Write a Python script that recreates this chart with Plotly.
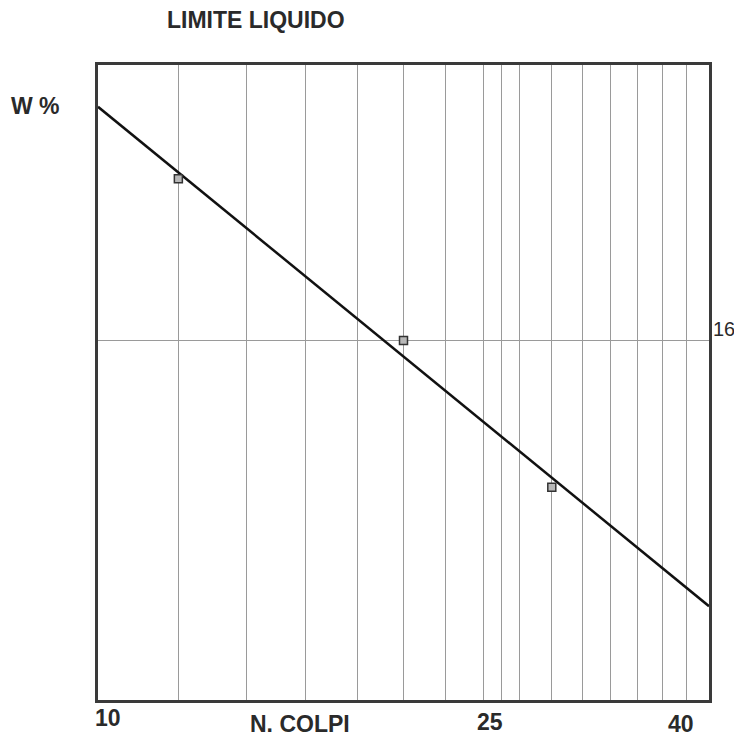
import numpy as np
import plotly.graph_objects as go

# ---- data ----
blows = [12, 20, 28]            # N. colpi
water = [18.7, 16.0, 13.55]     # W %
x_grid = [12, 14, 16, 18, 20, 22, 24, 25, 26, 28, 30, 32, 34, 36, 38]
x_tick_labels = [10, 25, 40]
y_grid = [16]
x_range = [10, 40]
y_range = [10.0, 20.6]

# least-squares fit in (log N, W)
coef = np.polyfit(np.log10(blows), water, 1)
fit_x = np.array(x_range, dtype=float)
fit_y = np.polyval(coef, np.log10(fit_x))

FONT = "Liberation Sans, Arial, sans-serif"
INK = "#2a2a2a"

W, H = 734, 742
L, R, T, B = 98, 709, 65, 700   # plot area in page pixels


def px(xp):
    return (xp - L) / (R - L)


def py(yp):
    return (B - yp) / (B - T)


fig = go.Figure()
fig.add_trace(go.Scatter(x=fit_x, y=fit_y, mode="lines",
                         line=dict(color="#111", width=2.5), hoverinfo="skip"))
fig.add_trace(go.Scatter(x=blows, y=water, mode="markers",
                         marker=dict(symbol="square", size=8, color="#b8b8b8",
                                     line=dict(color="#333", width=1.5))))

fig.update_layout(
    width=W, height=H,
    margin=dict(l=L, r=W - R, t=T, b=H - B),
    paper_bgcolor="white", plot_bgcolor="white",
    showlegend=False,
    font=dict(family=FONT, color=INK),
)
fig.update_xaxes(type="log", range=[np.log10(x_range[0]), np.log10(x_range[1])],
                 tickvals=x_grid, showticklabels=False, ticks="",
                 showgrid=True, gridcolor="#9a9a9a", gridwidth=1,
                 showline=True, mirror=True, linecolor="#3a3a3a", linewidth=3,
                 zeroline=False)
fig.update_yaxes(range=y_range, tickvals=y_grid, showticklabels=False, ticks="",
                 showgrid=True, gridcolor="#9a9a9a", gridwidth=1,
                 showline=True, mirror=True, linecolor="#3a3a3a", linewidth=3,
                 zeroline=False)

bold = dict(size=23, family=FONT, color=INK)
ann = []
ann.append(dict(text="<b>LIMITE LIQUIDO</b>", xref="paper", yref="paper",
                x=px(256), y=py(20), xanchor="center", yanchor="middle",
                showarrow=False, font=bold))
ann.append(dict(text="<b>W %</b>", xref="paper", yref="paper",
                x=px(35), y=py(106), xanchor="center", yanchor="middle",
                showarrow=False, font=bold))
ann.append(dict(text="<b>N. COLPI</b>", xref="paper", yref="paper",
                x=px(300), y=py(724), xanchor="center", yanchor="middle",
                showarrow=False, font=bold))
shifts = {10: 10, 25: -12, 40: -28}
yoff = {10: 18, 25: 22, 40: 24}
for v in x_tick_labels:
    ann.append(dict(text=f"<b>{v}</b>", xref="x", yref="paper",
                    x=np.log10(v), y=0, yshift=-yoff[v], xshift=shifts[v],
                    xanchor="center", yanchor="middle",
                    showarrow=False, font=bold))
for v in y_grid:
    ann.append(dict(text=str(v), xref="paper", yref="y", x=1, y=v,
                    xanchor="left", yanchor="middle", xshift=2, yshift=12,
                    showarrow=False, font=dict(size=20, family=FONT, color=INK)))
fig.update_layout(annotations=ann)

fig.write_html("out.html",
               config={"displayModeBar": False},
               post_script="document.body.style.margin='0px';"
                           "document.body.style.overflow='hidden';")
